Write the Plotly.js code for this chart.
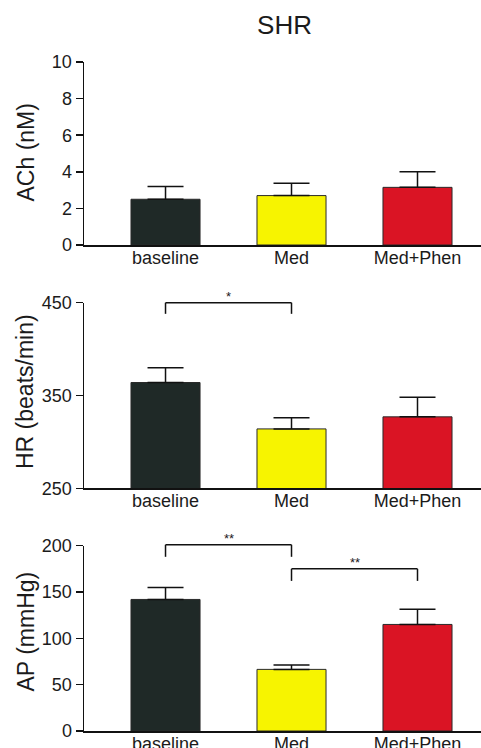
<!DOCTYPE html>
<html>
<head>
<meta charset="utf-8">
<script src="https://cdn.plot.ly/plotly-3.0.1.min.js"></script>
<style>html,body{margin:0;padding:0;background:#fff;}#chart{width:481px;height:748px;}</style>
</head>
<body>
<div id="chart"></div>
<script>
// ---- data ----
const categories = ["baseline", "Med", "Med+Phen"];
const barColors = ["#1f2927", "#f7f400", "#da1424"];

const achMean = [2.5, 2.7, 3.15];
const achSem = [0.7, 0.68, 0.85];

const hrMean = [364, 314, 327];
const hrSem = [16, 12, 21];

const apMean = [142, 66.5, 115];
const apSem = [13, 4.7, 16.5];

const achTicks = [0, 2, 4, 6, 8, 10];
const hrTicks = [250, 350, 450];
const apTicks = [0, 50, 100, 150, 200];

// significance brackets: [from index, to index, top value, leg bottom value, label]
const hrSig = [[0, 1, 450, 438, "*"]];
const apSig = [[0, 1, 201, 188, "**"], [1, 2, 175, 162, "**"]];

// ---- build ----
const font = "Liberation Sans, Arial, sans-serif";
const txt = "#1b1b1b";
const H = 748, L = 84, W = 481 - L;
function dom(topPx, botPx) { return [1 - botPx / H, 1 - topPx / H]; }
const doms = [dom(62, 245), dom(302.7, 488.3), dom(545.7, 731)];
const ranges = [[0, 10], [250, 450], [0, 200]];

const traces = [];
const annotations = [];
const shapes = [];

function addBars(mean, sem, ax) {
  traces.push({
    type: "bar", x: categories, y: mean,
    xaxis: "x" + ax, yaxis: "y" + ax,
    width: 0.548,
    marker: {color: barColors, line: {color: "#2a2a2a", width: 1}},
    error_y: {type: "data", symmetric: false, array: sem,
      arrayminus: sem.map(() => 0), width: 18, thickness: 1.5, color: "#111"},
    showlegend: false, hoverinfo: "skip"
  });
}
// convert a value on panel k's y axis to a paper fraction (follows the axis scale)
function toPaper(k, v) {
  const d = doms[k], r = ranges[k];
  return d[0] + (v - r[0]) / (r[1] - r[0]) * (d[1] - d[0]);
}
function addSig(sig, k) {
  const ax = "x" + (k === 0 ? "" : k + 1);
  sig.forEach(s => {
    const yTop = toPaper(k, s[2]), yBot = toPaper(k, s[3]);
    const x0 = s[0], x1 = s[1];
    [[x0, yBot, x0, yTop], [x0, yTop, x1, yTop], [x1, yTop, x1, yBot]].forEach(p => {
      shapes.push({type: "line", xref: ax, yref: "paper",
        x0: p[0], y0: p[1], x1: p[2], y1: p[3],
        line: {color: "#111", width: 1.5}});
    });
    annotations.push({
      xref: ax, yref: "paper",
      x: (x0 + x1) / 2, y: yTop,
      text: s[4], showarrow: false, yanchor: "bottom", yshift: -3,
      font: {family: font, size: 13, color: txt}
    });
  });
}
addBars(achMean, achSem, "");
addBars(hrMean, hrSem, "2");
addBars(apMean, apSem, "3");
addSig(hrSig, 1);
addSig(apSig, 2);

function xax(anchor) {
  return {
    anchor: anchor, domain: [0, 1], range: [-0.647, 2.504],
    showline: true, linecolor: "#111", linewidth: 1.5,
    ticks: "", ticklabelstandoff: -4, showgrid: false, zeroline: false, fixedrange: true,
    tickfont: {family: font, size: 18, color: txt}, automargin: false
  };
}
function yax(anchor, k, ticks) {
  return {
    anchor: anchor, domain: doms[k], range: ranges[k],
    tickvals: ticks, ticktext: ticks.map(String),
    showline: true, linecolor: "#111", linewidth: 1.5,
    ticks: "outside", ticklen: 7, tickwidth: 1.5, tickcolor: "#111",
    showgrid: false, zeroline: false, fixedrange: true,
    tickfont: {family: font, size: 18, color: txt}, automargin: false
  };
}

const yTitles = [["ACh (nM)", 152.5], ["HR (beats/min)", 392], ["AP (mmHg)", 631.5]];
yTitles.forEach(t => {
  annotations.push({
    xref: "paper", yref: "paper",
    x: (25 - L) / W, y: 1 - t[1] / H,
    text: t[0], textangle: -90, showarrow: false,
    xanchor: "center", yanchor: "middle",
    font: {family: font, size: 23, color: txt}
  });
});

const layout = {
  width: 481, height: 748,
  margin: {l: L, r: 0, t: 0, b: 0, pad: 0},
  paper_bgcolor: "#fff", plot_bgcolor: "#fff",
  title: {text: "SHR", xref: "paper", x: (284.5 - L) / W, xanchor: "center",
    yref: "container", y: 1 - 25 / H, yanchor: "middle",
    font: {family: font, size: 26, color: txt}},
  xaxis: xax("y"), xaxis2: xax("y2"), xaxis3: xax("y3"),
  yaxis: yax("x", 0, achTicks),
  yaxis2: yax("x2", 1, hrTicks),
  yaxis3: yax("x3", 2, apTicks),
  annotations: annotations,
  shapes: shapes
};

Plotly.newPlot("chart", traces, layout, {displayModeBar: false, staticPlot: true});
</script>
</body>
</html>
